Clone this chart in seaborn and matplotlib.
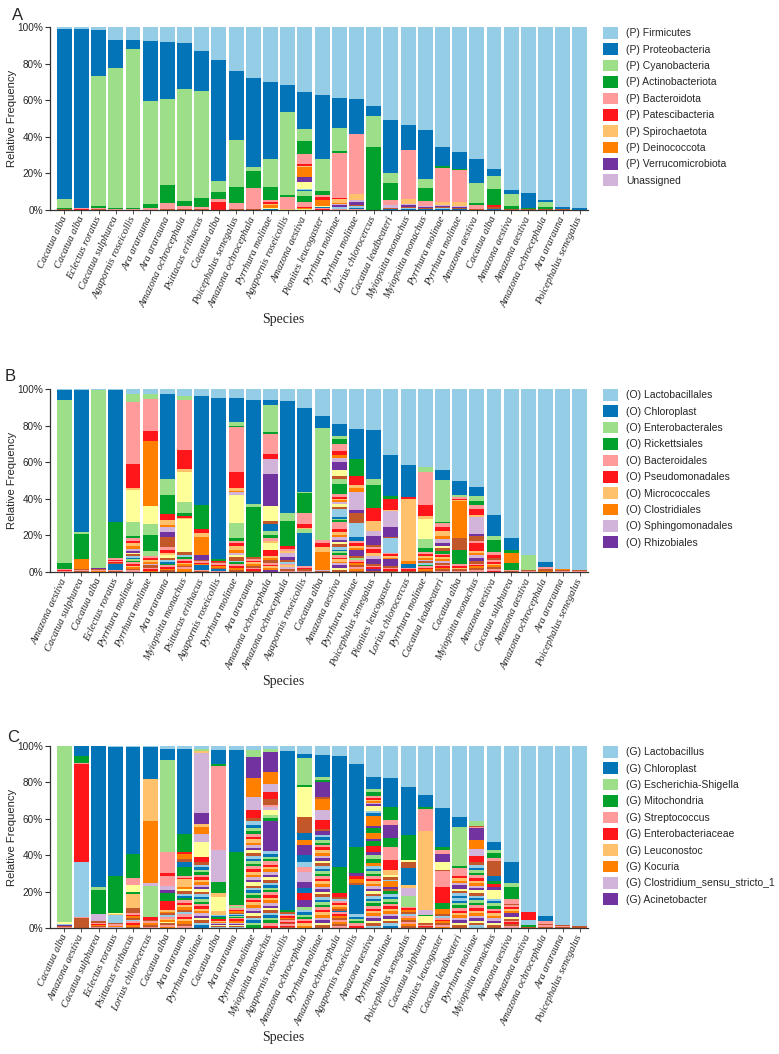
"""Stacked relative-abundance bars (phylum / order / genus) per parrot sample."""

import numpy as np
import seaborn as sns
import matplotlib.pyplot as plt
from matplotlib.patches import Patch

PALETTE = ["#94CDE5", "#0374B8", "#9DDF89", "#02A12B", "#FF9C9B", "#FF161B",
           "#FFC16C", "#FF8000", "#D2B4DA", "#7033A0", "#FFFF99", "#C2582A"]
TAIL_START = 72  # taxon index where the long tail of rare taxa starts

# ---------------- panel A : phylum ----------------
species_a = ["Cacatua alba", "Cacatua alba", "Eclectus roratus", "Cacatua sulphurea",
             "Agapornis roseicollis", "Ara ararauna", "Ara ararauna", "Amazona ochrocephala",
             "Psittacus erithacus", "Cacatua alba", "Poicephalus senegalus", "Amazona ochrocephala",
             "Pyrrhura molinae", "Agapornis roseicollis", "Amazona aestiva", "Pionites leucogaster",
             "Pyrrhura molinae", "Pyrrhura molinae", "Lorius chlorocercus", "Cacatua leadbeateri",
             "Myiopsitta monachus", "Myiopsitta monachus", "Pyrrhura molinae", "Pyrrhura molinae",
             "Amazona aestiva", "Cacatua alba", "Amazona aestiva", "Amazona aestiva",
             "Amazona ochrocephala", "Ara ararauna", "Poicephalus senegalus"]
taxa_a = ["(P) Firmicutes", "(P) Proteobacteria", "(P) Cyanobacteria", "(P) Actinobacteriota",
          "(P) Bacteroidota", "(P) Patescibacteria", "(P) Spirochaetota", "(P) Deinococcota",
          "Unassigned", "(P) Verrucomicrobiota"]
legend_a = ["(P) Firmicutes", "(P) Proteobacteria", "(P) Cyanobacteria", "(P) Actinobacteriota",
            "(P) Bacteroidota", "(P) Patescibacteria", "(P) Spirochaetota", "(P) Deinococcota",
            "(P) Verrucomicrobiota", "Unassigned"]
top_a = [
    [1, 93, 5, 0.5, 0, 0, 0, 0, 0, 0],
    [1.3, 98, 0, 0, 0.3, 0, 0, 0, 0, 0],
    [1.5, 25.5, 71, 1, 0.6, 0, 0, 0, 0, 0],
    [7, 15.4, 76.6, 0.6, 0.2, 0, 0, 0, 0, 0],
    [7, 5, 87, 0.6, 0.2, 0, 0, 0, 0, 0],
    [7.8, 32.6, 56.3, 2.3, 0.8, 0, 0, 0, 0, 0],
    [8.2, 31.1, 47.1, 9.6, 3.5, 0, 0, 0, 0, 0],
    [8.7, 25.3, 61.1, 2.7, 1.7, 0, 0, 0, 0, 0],
    [13.3, 21.6, 58.7, 4.8, 0.8, 0.5, 0, 0, 0, 0],
    [18.2, 66, 6.2, 3.6, 1.8, 4, 0, 0, 0, 0],
    [24.2, 37.3, 25.8, 8.7, 3.6, 0, 0, 0, 0, 0],
    [27.6, 48.8, 2.1, 9.7, 11.5, 0, 0, 0, 0, 0],
    [30, 41.5, 15.5, 6.6, 1, 1.5, 0.6, 1.5, 0, 0],
    [31.8, 14.9, 45.1, 0.9, 6.8, 0, 0.3, 0, 0, 0],
    [35.5, 20, 6.5, 7.5, 5.5, 0.8, 0.7, 5.5, 0, 2.7],
    [37.3, 34.7, 17.5, 2.5, 1, 1.3, 0.5, 2.8, 0, 0],
    [38.7, 16.3, 12.6, 1.1, 24.9, 0.5, 2, 0.5, 0.5, 1],
    [39.6, 18.6, 0, 0, 33.3, 0, 3, 0, 1, 1.5],
    [43.3, 5.4, 16.8, 34.3, 0, 0, 0, 0, 0, 0],
    [51, 28.6, 5.4, 9.5, 2.8, 0, 0, 0, 1.5, 0],
    [53.3, 14, 0, 0, 26.9, 0, 2.5, 0, 0.5, 1.3],
    [56.4, 26.9, 4.5, 7.3, 2.7, 0, 0, 0, 0.5, 0.5],
    [65.5, 10.4, 0, 1, 18.5, 0, 1.8, 0, 0.4, 0.8],
    [68.4, 9.4, 0, 0.3, 17.8, 0, 1.8, 0, 0.4, 0.7],
    [72.2, 12.9, 10.9, 1.3, 2.4, 0, 0, 0, 0, 0],
    [77.6, 3.9, 7.2, 8.6, 0, 1.3, 0, 0, 0, 0],
    [89.1, 2.4, 6.3, 1.5, 0.3, 0, 0, 0, 0, 0],
    [90.5, 8.6, 0, 0.5, 0, 0, 0, 0, 0, 0],
    [94.5, 1.3, 2.4, 1, 0.4, 0, 0, 0, 0, 0],
    [98.5, 1.1, 0, 0, 0, 0, 0, 0, 0, 0],
    [98.9, 0.9, 0, 0, 0, 0, 0, 0, 0, 0],
]
# rarer taxa: {taxon index: relative abundance}
minor_a = [
    {11: 0.3, 16: 0.2}, {11: 0.4, 17: 0.3}, {11: 0.4}, {11: 0.2}, {11: 0.2}, {11: 0.2},
    {11: 0.5}, {11: 0.5}, {11: 0.3}, {11: 0.2}, {11: 0.4}, {11: 0.3},
    {10: 0.3, 11: 0.4, 13: 0.3}, {11: 0.2},
    {10: 3.6, 11: 0.3, 12: 0.5, 13: 0.5, 14: 2.5, 15: 3.5, 16: 2.5, 17: 0.5, 18: 0.4, 19: 0.5, 22: 0.4},
    {10: 0.5, 11: 0.5, 13: 0.5, 16: 0.5, 17: 0.4},
    {11: 0.5, 12: 0.6, 13: 0.4, 16: 0.4},
    {11: 0.8, 12: 1, 13: 0.5, 16: 0.7},
    {11: 0.2}, {11: 0.4, 12: 0.4, 13: 0.4}, {11: 0.5, 12: 0.5, 13: 0.5},
    {11: 0.4, 12: 0.4, 13: 0.4}, {11: 0.5, 12: 0.6, 13: 0.5}, {11: 0.4, 12: 0.4, 13: 0.4},
    {11: 0.3}, {11: 0.7, 13: 0.7}, {11: 0.4}, {11: 0.4}, {11: 0.4}, {11: 0.4}, {11: 0.2},
]
tail_a = {}

# ---------------- panel B : order ----------------
species_b = ["Amazona aestiva", "Cacatua sulphurea", "Cacatua alba", "Eclectus roratus",
             "Pyrrhura molinae", "Pyrrhura molinae", "Ara ararauna", "Myiopsitta monachus",
             "Psittacus erithacus", "Agapornis roseicollis", "Pyrrhura molinae", "Ara ararauna",
             "Amazona ochrocephala", "Amazona ochrocephala", "Agapornis roseicollis", "Cacatua alba",
             "Amazona aestiva", "Pyrrhura molinae", "Poicephalus senegalus", "Pionites leucogaster",
             "Lorius chlorocercus", "Pyrrhura molinae", "Cacatua leadbeateri", "Cacatua alba",
             "Myiopsitta monachus", "Amazona aestiva", "Cacatua sulphurea", "Amazona aestiva",
             "Amazona ochrocephala", "Ara ararauna", "Poicephalus senegalus"]
taxa_b = ["(O) Lactobacillales", "(O) Chloroplast", "(O) Enterobacterales", "(O) Rickettsiales",
          "(O) Bacteroidales", "(O) Pseudomonadales", "(O) Micrococcales", "(O) Clostridiales",
          "(O) Sphingomonadales", "(O) Rhizobiales"]
top_b = [
    [0.7, 5.2, 89.2, 3.4, 0.5, 0.3, 0, 0, 0, 0],
    [0.4, 77.7, 1.2, 13.4, 0, 0, 0, 5.8, 0, 0],
    [0.4, 0, 97.4, 0, 0, 0, 0, 0, 0, 0.8],
    [0.7, 71.9, 0, 20.1, 0.8, 0.6, 0, 0, 0, 0],
    [2.6, 0, 4.2, 0, 33.2, 13, 0.7, 0, 0, 0],
    [2.6, 0, 2.7, 0, 17.6, 5.8, 0, 35.3, 0, 0],
    [2.7, 46.5, 8.8, 10.4, 0, 3.3, 2.2, 1.4, 2.8, 2.7],
    [3.7, 0, 2.5, 0, 26.7, 10.4, 1.5, 0, 0, 0],
    [4, 59.4, 0, 13.4, 0, 2.2, 1.8, 10.1, 0, 2.7],
    [5, 88.2, 0, 1.3, 0, 0.5, 0, 0, 0, 0],
    [5, 13.1, 2, 0.7, 24.4, 8.5, 1.5, 0.9, 1.3, 0],
    [5.9, 57, 1.5, 27.4, 0, 0, 0, 0, 0, 0],
    [6.2, 2.4, 14.6, 1.3, 10.6, 2.7, 0, 0, 8.3, 17.3],
    [6.8, 61.6, 4.2, 13.7, 0, 1.8, 0, 0, 0, 0],
    [10.4, 45.7, 0.6, 10.4, 6.4, 1.8, 1, 0, 0, 0],
    [15, 6.4, 60.9, 0, 2, 2, 2.7, 9.7, 0.5, 0.3],
    [19, 7, 1.3, 2.7, 4.2, 1.8, 0, 1.8, 2.4, 4],
    [22, 16.4, 0, 9.1, 0, 5, 1.8, 1.8, 10, 1.8],
    [22.3, 27.1, 3.1, 12.8, 0, 7.3, 5.5, 0, 2.7, 5.1],
    [36, 22, 0, 1.8, 0, 5.5, 0.5, 0, 9.1, 5.5],
    [41.5, 17.4, 0, 0, 0, 0.9, 33.8, 1.8, 0, 0],
    [42.8, 0, 2.4, 0, 18.2, 6.4, 1.5, 0, 0, 0],
    [44.2, 5.2, 22.6, 1, 1.8, 2.4, 2.7, 1.5, 2, 2],
    [50.1, 7.3, 1.1, 0, 1.3, 0.5, 0.5, 20.1, 0, 0],
    [53.4, 5.1, 2.6, 2.3, 1.9, 3.6, 0.9, 0, 9.1, 1.5],
    [68.9, 11.5, 2.2, 6.4, 1.8, 1.8, 0, 0, 0, 0],
    [81.4, 6.8, 0, 1.4, 0, 0, 0, 5.5, 0, 0],
    [90.9, 0, 7.9, 0, 0, 0, 0, 0, 0, 0],
    [94.5, 2.8, 0, 0, 1.2, 0, 0, 0, 0, 0],
    [98.5, 0, 0, 0, 0, 0, 0, 0.5, 0, 0],
    [99, 0, 0, 0, 0, 0, 0, 0, 0, 0],
]
minor_b = [
    {11: 0.3, 16: 0.2, 17: 0.2},
    {11: 0.5, 16: 0.4, 21: 0.3, 23: 0.3},
    {11: 0.5, 16: 0.5, 19: 0.4},
    {16: 0.6, 17: 0.5, 23: 0.8, 25: 3.3, 28: 0.5, 35: 0.4},
    {10: 17, 14: 7.4, 15: 1.4, 16: 1.5, 17: 1, 18: 1.5, 19: 1.5, 20: 1.2, 21: 1, 22: 0.5,
     23: 1.5, 24: 0.8, 25: 0.5, 26: 1, 27: 0.8, 28: 1, 29: 0.8, 30: 0.8, 31: 0.8, 35: 1, 40: 0.8},
    {10: 10.4, 14: 5.9, 15: 8.8, 26: 2.7, 28: 1, 29: 1, 30: 1.2, 31: 1, 32: 0.8, 35: 1.5,
     40: 0.6, 41: 0.8, 43: 0.8},
    {11: 5.6, 16: 1.5, 17: 1.5, 18: 1, 22: 1.5, 23: 1.5, 24: 1, 25: 0.8, 27: 1, 28: 1,
     29: 0.8, 31: 0.8, 35: 1},
    {10: 16.3, 14: 6.2, 15: 1.3, 17: 1.2, 18: 0.8, 22: 18, 23: 1.5, 24: 1, 27: 1, 28: 1,
     29: 1, 30: 0.8, 31: 0.8, 35: 1, 40: 1, 43: 1.5},
    {11: 0.8, 16: 0.8, 17: 0.7, 19: 0.6, 25: 2.7, 28: 0.5, 35: 0.5},
    {11: 0.8, 16: 0.8, 17: 0.8, 19: 0.8, 23: 0.8, 25: 1, 28: 0.5},
    {10: 15.2, 14: 8.2, 15: 1.5, 16: 1.5, 17: 1.5, 18: 1.8, 19: 1.8, 20: 1, 22: 1.3, 23: 2,
     24: 0.8, 27: 1, 28: 1, 29: 1, 31: 1, 35: 1.3},
    {11: 1.2, 16: 1, 17: 0.8, 18: 0.8, 19: 1, 23: 1.2, 28: 0.8, 29: 0.7, 35: 0.7},
    {10: 8.3, 11: 1.8, 13: 3.3, 14: 2.2, 15: 1.8, 16: 1.5, 18: 1.5, 22: 3.5, 29: 3.5, 30: 1,
     31: 1, 35: 1.5, 40: 1, 41: 1, 42: 1, 43: 1, 45: 1},
    {16: 1, 18: 1.2, 20: 2.5, 21: 1.5, 23: 1, 24: 1, 28: 1, 30: 1, 32: 1.2, 35: 0.8, 40: 0.6},
    {14: 1.8, 25: 18.3, 28: 0.8, 29: 0.8, 35: 0.8, 40: 0.6},
    {11: 0.5},
    {10: 3.3, 11: 1.8, 14: 2.7, 15: 5.5, 16: 1.5, 17: 1, 18: 1, 19: 1, 20: 1, 22: 1.5, 23: 1,
     24: 4.5, 25: 1, 26: 1, 27: 0.8, 28: 4, 29: 1.5, 30: 1.5, 31: 1.2, 32: 1.5, 33: 1, 34: 1.5,
     35: 1.5, 36: 1.5, 37: 0.5, 38: 1.5, 39: 0.8, 40: 1.5, 41: 0.8, 42: 1.5, 43: 0.8, 44: 1.2,
     45: 1.2, 46: 1.2, 47: 1.2},
    {11: 5.5, 12: 7.3, 13: 2.2, 16: 1.5, 17: 1.5, 18: 1, 19: 1, 21: 3.5, 23: 1, 26: 1, 28: 1,
     29: 1, 31: 1, 35: 1.2, 40: 1, 43: 1, 47: 0.5},
    {11: 0.8, 16: 1, 17: 2.5, 18: 1.5, 20: 2, 21: 2.5, 23: 1, 28: 0.8, 29: 1, 33: 0.8, 35: 0.8},
    {11: 0.5, 12: 7.7, 16: 1, 17: 1, 18: 0.8, 19: 0.8, 21: 3.5, 23: 1, 28: 0.8, 29: 0.8, 35: 0.8},
    {13: 1.8, 16: 0.8, 17: 0.8, 23: 0.8},
    {10: 11, 14: 4.9, 15: 1.8, 16: 1.2, 17: 1.2, 18: 1, 19: 1, 20: 1, 23: 1, 24: 0.8, 27: 0.8,
     28: 0.8, 29: 0.8, 31: 0.8, 35: 0.8},
    {10: 1, 11: 1.5, 15: 1.5, 16: 1, 17: 1, 18: 1, 19: 1, 20: 1, 23: 1, 28: 0.8, 29: 0.8,
     31: 0.8, 35: 0.8, 40: 0.8},
    {11: 6.4, 15: 7.9, 16: 1, 17: 1, 18: 0.8, 23: 0.8, 28: 0.6},
    {11: 2.6, 16: 1, 17: 4.5, 18: 1.2, 19: 1, 20: 1.5, 21: 1.5, 23: 1.5, 28: 0.8, 29: 0.8,
     31: 1, 35: 1, 40: 1},
    {11: 1, 16: 1, 17: 1, 18: 1, 19: 1, 23: 1, 28: 0.8, 29: 0.8},
    {15: 3.7, 16: 0.6, 23: 0.6},
    {11: 0.6, 16: 0.6},
    {11: 0.8, 19: 0.7},
    {11: 0.7, 16: 0.3},
    {11: 0.7, 16: 0.3},
]
tail_b = {}

# ---------------- panel C : genus ----------------
species_c = ["Cacatua alba", "Amazona aestiva", "Cacatua sulphurea", "Eclectus roratus",
             "Psittacus erithacus", "Lorius chlorocercus", "Cacatua alba", "Ara ararauna",
             "Pyrrhura molinae", "Cacatua alba", "Ara ararauna", "Pyrrhura molinae",
             "Myiopsitta monachus", "Agapornis roseicollis", "Amazona ochrocephala", "Pyrrhura molinae",
             "Amazona ochrocephala", "Agapornis roseicollis", "Amazona aestiva", "Pyrrhura molinae",
             "Poicephalus senegalus", "Cacatua sulphurea", "Pionites leucogaster", "Cacatua leadbeateri",
             "Pyrrhura molinae", "Myiopsitta monachus", "Amazona aestiva", "Amazona aestiva",
             "Amazona ochrocephala", "Ara ararauna", "Poicephalus senegalus"]
taxa_c = ["(G) Lactobacillus", "(G) Chloroplast", "(G) Escherichia-Shigella", "(G) Mitochondria",
          "(G) Streptococcus", "(G) Enterobacteriaceae", "(G) Leuconostoc", "(G) Kocuria",
          "(G) Clostridium_sensu_stricto_1", "(G) Acinetobacter"]
top_c = [
    [0, 0, 96.9, 0, 0, 0, 0, 0, 0, 0],
    [0, 5.5, 0, 3.8, 0.5, 53.6, 0, 0, 0, 0],
    [0, 77.2, 1.8, 13.1, 0, 0, 0, 0, 4.2, 0],
    [0.5, 70.3, 0, 20.6, 0, 0, 0, 0, 0, 0],
    [0.5, 58.8, 0, 13.3, 3.6, 0, 0, 0, 0, 0],
    [0.5, 17.3, 0, 0.4, 0, 0, 22.9, 33.8, 1.6, 0],
    [1.5, 6, 50.5, 0.5, 11.5, 1.5, 0, 0, 0, 0],
    [1.5, 47.4, 0, 9.7, 0, 1.1, 0, 2.9, 0, 0],
    [1.5, 0, 1.3, 0, 0, 0, 1, 0, 33.4, 6],
    [2.4, 7.3, 0, 1.5, 46, 0, 0, 0, 17.3, 0],
    [2.4, 56, 0, 29, 0.5, 0, 0, 0, 0, 0],
    [2.4, 0, 3.6, 0, 0, 0, 0, 0, 0, 0],
    [1.5, 0, 1.8, 0, 0, 0, 0, 0, 0, 0],
    [2.7, 87, 0, 1.3, 0, 0, 0, 0, 0, 0],
    [4.2, 2.2, 15.1, 1, 0, 0, 0, 0, 0, 0],
    [5, 11.9, 1.8, 1, 0, 0, 0, 0, 0, 8.2],
    [5.7, 60.6, 0, 14.6, 0, 1.8, 0, 0, 0, 0],
    [9.7, 45.6, 0, 14.6, 0, 0, 0, 0, 0, 1.8],
    [17, 6.5, 1.8, 1.8, 1.2, 1, 0.8, 0.8, 0.8, 0.8],
    [17.5, 16, 0, 7.3, 2.7, 0, 0, 0, 0, 7.3],
    [22.4, 26.5, 0, 13.7, 0, 0, 0, 0, 0, 0],
    [26.5, 6.9, 0, 0.9, 11.9, 0, 43.1, 0, 2.7, 0],
    [33.8, 21.5, 0, 1.5, 2.2, 0, 0, 0, 0, 4.6],
    [39.2, 5.5, 21.5, 0.8, 4.6, 1.2, 1.5, 1, 0.8, 2.5],
    [41.6, 0, 2.4, 0, 0, 0, 0, 0, 0, 0],
    [52.6, 4.5, 1.8, 2.7, 1.8, 0, 0, 0, 0, 0],
    [64.4, 11.3, 2.4, 6.4, 2.7, 0, 0, 0, 0, 0],
    [91.4, 0, 0, 0, 0, 4, 0, 0, 0, 0],
    [93.2, 2.7, 0, 0, 1.6, 0, 0, 0, 0, 0],
    [98.2, 0, 0, 0, 0, 0, 0, 0, 0, 0],
    [98.7, 0, 0, 0, 0, 0, 0, 0, 0, 0],
]
minor_c = [
    {10: 0.7, 12: 0.5, 13: 0.4, 21: 0.5, 23: 0.5, 28: 0.5},
    {12: 30.5, 16: 0.5, 23: 5.5},
    {11: 0.6, 16: 0.6, 17: 0.5, 19: 0.6, 23: 0.7, 28: 0.6},
    {10: 0.7, 18: 0.5, 24: 4, 35: 0.8, 40: 0.8, 41: 0.4, 43: 0.5, 44: 0.4},
    {10: 3.6, 15: 1.3, 18: 7.8, 23: 2.7, 28: 1, 29: 0.8, 31: 1, 35: 1, 36: 0.8, 40: 1,
     41: 0.8, 43: 1, 47: 0.8},
    {14: 17, 17: 1.3, 23: 1, 28: 1, 31: 0.8, 35: 1, 40: 0.8},
    {16: 5.5, 20: 2, 21: 2, 27: 4, 29: 5, 30: 1, 31: 1, 35: 1, 36: 0.8, 40: 1, 42: 0.8,
     43: 1, 46: 0.8, 47: 1, 52: 0.8, 55: 0.8},
    {11: 1.5, 13: 2.7, 15: 5, 16: 1, 17: 1, 18: 4, 19: 1.5, 22: 1, 23: 1.5, 24: 1.2, 25: 1.2,
     27: 1.2, 28: 1.5, 29: 1.2, 30: 1.2, 31: 1.2, 35: 1.5, 36: 1.2, 40: 1.5, 41: 1.2, 42: 1.2,
     43: 1.2, 47: 1.2, 52: 1.2},
    {18: 1.5, 19: 4, 20: 4.6, 22: 8.2, 29: 2.7, 35: 1.8},
    {15: 6.4, 18: 1.8, 22: 8.2, 30: 1.8},
    {14: 1.5, 16: 0.8, 17: 0.8, 19: 0.8, 23: 0.8},
    {21: 11.9, 31: 10, 32: 7.3, 41: 4.6, 47: 1.8},
    {21: 11, 31: 6.4, 32: 4.6, 41: 3.6, 47: 3.6, 52: 1.2, 56: 1.3, 58: 2.7, 62: 1.8, 63: 1.8,
     69: 16.4},
    {11: 0.6, 12: 0.8, 16: 0.8, 17: 0.6, 19: 0.7, 23: 0.8, 28: 0.8, 29: 0.7, 35: 0.7, 40: 0.8,
     41: 0.6, 47: 0.6},
    {10: 16.4, 11: 9.1, 13: 3.6, 19: 3, 21: 5.5, 25: 3.6, 36: 2.7, 40: 2.7, 44: 5.5, 45: 3.6,
     49: 2.7, 53: 3.6, 57: 3.6, 62: 1.8},
    {11: 0.9, 19: 6.4, 20: 5.5, 29: 4.6, 35: 1.5, 45: 1.8},
    {11: 1.2, 12: 1.2, 16: 1, 17: 1, 18: 1, 19: 1.2, 23: 1.2, 25: 0.8, 28: 1, 29: 1, 31: 1.2,
     35: 1.2, 40: 1, 43: 1, 47: 1.2, 52: 1},
    {17: 1.5, 19: 1.8, 23: 1.5, 25: 15.8},
    {10: 2.7, 12: 1.5, 13: 1.5, 19: 5.5, 21: 1.2, 27: 2.7, 31: 3, 33: 1.5, 39: 2.5, 41: 3,
     45: 2, 50: 2, 51: 2.5, 55: 1.5},
    {15: 4.6, 16: 7.3, 17: 5.5, 18: 2.7, 22: 1.2, 23: 1.3, 24: 1, 31: 3, 33: 1, 35: 1, 39: 2},
    {10: 0.9, 11: 3.6, 13: 9.1, 18: 1.8, 20: 4.6, 26: 5.5, 28: 1, 29: 1, 31: 1, 35: 1.2,
     36: 1, 40: 1.2, 43: 1, 47: 1.2, 52: 1.2, 55: 1, 59: 1},
    {15: 1, 22: 3.6, 23: 0.8, 28: 0.6, 29: 0.6, 35: 0.7},
    {10: 4, 11: 0.5, 16: 9, 17: 9, 27: 3.1, 31: 2.7, 35: 1, 36: 1, 40: 1, 41: 0.8, 43: 1,
     47: 1, 52: 1, 55: 0.8},
    {10: 1, 11: 1.2, 12: 1.5, 13: 1.2},
    {11: 0.6, 16: 0.6, 21: 6.4, 31: 5.1, 32: 4, 41: 3.3, 47: 1.8},
    {11: 8.2, 13: 2.7, 15: 1.5, 17: 1.5, 21: 2, 22: 4.6},
    {11: 1, 16: 1, 17: 1.2, 18: 1, 19: 1.2, 21: 2, 22: 1, 23: 1, 28: 1, 29: 1, 35: 1.1, 40: 1},
    {12: 2.7, 15: 1.3, 23: 0.6},
    {11: 0.8, 16: 0.8, 23: 0.8},
    {11: 0.6, 16: 0.6, 23: 0.6},
    {11: 0.5, 16: 0.4, 23: 0.4},
]
# long tail of rare genera for the most diverse samples (bar index -> abundances)
tail_c = {
    8: [1.2, 1.5, 1.0, 1.6, 1.3, 1.4, 1.2, 1.5, 1.3, 1.1, 1.6, 1.4, 1.2, 1.3, 1.5, 1.2, 1.4,
        1.3, 1.1, 1.5, 1.3, 1.4, 1.2, 1.3, 1.5, 1.4],
    9: [0.5, 0.6, 0.4, 0.6, 0.5, 0.7, 0.6, 0.5, 0.6, 0.5, 0.6, 0.5, 0.7],
    10: [0.6, 0.5, 0.7, 0.5, 0.6, 0.6, 0.5, 0.6, 0.7, 0.5, 0.6, 0.5, 0.7],
    11: [2.2, 1.3, 1.8, 1.5, 1.6, 1.2, 2.0, 1.4, 1.5, 1.3, 1.8, 1.2, 1.6, 1.4, 1.5, 1.2, 1.9,
         1.4, 1.6, 1.3, 1.5, 1.4, 1.7, 1.2, 1.4, 1.3, 1.5, 1.2, 1.4, 1.3, 1.5, 1.4, 1.6, 1.3,
         1.5, 1.2, 1.4, 1.3, 1.5, 1.4],
    12: [1.6, 1.3, 1.5, 1.2, 1.7, 1.4, 1.3, 1.5, 1.4, 1.2, 1.6, 1.5, 1.3, 1.4, 1.5, 1.2, 1.4,
         1.6, 1.3, 1.4, 1.5, 1.3, 1.4, 1.2, 1.5, 1.4, 1.3, 1.5, 1.4, 1.3],
    14: [1.4, 1.2, 1.3, 1.1, 1.3, 1.2, 1.4, 1.1],
    15: [1.5, 1.3, 1.6, 1.4, 1.2, 1.5, 1.7, 1.3, 1.4, 1.5, 1.2, 1.6, 1.4, 1.3, 1.5, 1.4, 1.6,
         1.2, 1.5, 1.4, 1.3, 1.6, 1.4, 1.5, 1.3, 1.4, 1.6, 1.2, 1.5, 1.4, 1.3, 1.5, 1.4, 1.6,
         1.3, 1.4],
    17: [1.4, 1.2, 1.3, 1.3, 1.2, 1.3],
    18: [1.4, 1.2, 1.5, 1.3, 1.4, 1.2, 1.6, 1.3, 1.4, 1.2, 1.5, 1.3, 1.4, 1.3, 1.2, 1.5, 1.4,
         1.3, 1.2, 1.4, 1.5, 1.3, 1.4, 1.2, 1.3],
    19: [1.4, 1.2, 1.5, 1.3, 1.2, 1.4, 1.3, 1.5, 1.2, 1.4, 1.3, 1.2, 1.4, 1.3],
    23: [1.5, 1.2, 1.4, 1.3, 1.5, 1.4, 1.2, 1.5, 1.3, 1.4, 1.2, 1.6],
    24: [1.5, 1.3, 1.4, 1.2, 1.6, 1.4, 1.3, 1.5, 1.2, 1.4, 1.3, 1.5, 1.4, 1.2, 1.5, 1.3, 1.4,
         1.6, 1.3, 1.4, 1.2, 1.5, 1.3, 1.4, 1.4],
    25: [1.4, 1.2, 1.5, 1.3, 1.4, 1.2, 1.3, 1.5, 1.2, 1.4, 1.3, 1.4],
}


def build_matrix(top, minor, tail):
    """Samples x taxa matrix, rows rescaled to 100 %."""
    n_cols = TAIL_START + max([len(v) for v in tail.values()] + [0])
    mat = np.zeros((len(top), n_cols))
    for i, row in enumerate(top):
        mat[i, :len(row)] = row
    for i, extra in enumerate(minor):
        for k, v in extra.items():
            mat[i, k] = v
    for i, vals in tail.items():
        mat[i, TAIL_START:TAIL_START + len(vals)] = vals
    return mat / mat.sum(axis=1, keepdims=True) * 100


def draw_panel(ax, mat, species):
    x = np.arange(len(species))
    # top edge of each taxon when taxon 0 sits on top of the stack
    tops = mat[:, ::-1].cumsum(axis=1)[:, ::-1]
    for k in range(mat.shape[1]):
        if not mat[:, k].any():
            continue
        sns.barplot(x=x, y=tops[:, k], color=PALETTE[k % 12], saturation=1, width=0.87,
                    errorbar=None, linewidth=0, ax=ax)
    ax.set_xlim(-0.83, 30.47)
    ax.set_ylim(0, 100)
    ax.set_yticks([0, 20, 40, 60, 80, 100])
    ax.set_yticklabels([f"{v}%" for v in range(0, 101, 20)], fontsize=7.2)
    ax.set_xticks(x)
    ax.set_xticklabels(species, rotation=65, ha="right", va="center", rotation_mode="anchor",
                       fontsize=7.6, fontstyle="italic", family="Liberation Serif")
    ax.tick_params(axis="y", length=3.5, width=0.8, pad=1.5, color="#333333")
    ax.tick_params(axis="x", length=3, width=0.6, pad=2, color="#333333")
    ax.set_xlabel("")
    ax.set_ylabel("Relative Frequency", fontsize=8.1)
    ax.yaxis.set_label_coords(-0.062, 0.5)
    sns.despine(ax=ax)
    for side in ("left", "bottom"):
        ax.spines[side].set_color("#333333")
        ax.spines[side].set_linewidth(0.9)


sns.set_style("ticks")
plt.rcParams["font.family"] = ["Liberation Sans", "DejaVu Sans"]

W, H = 779, 1054
fig = plt.figure(figsize=(W / 100, H / 100), dpi=100)

panels = [
    ("A", species_a, build_matrix(top_a, minor_a, tail_a), taxa_a, legend_a, 27, 210, (12, 20), 320),
    ("B", species_b, build_matrix(top_b, minor_b, tail_b), taxa_b, taxa_b, 389, 572, (5, 381), 682),
    ("C", species_c, build_matrix(top_c, minor_c, tail_c), taxa_c, taxa_c, 746, 928, (7, 742), 1038),
]

for letter, species, mat, taxa, legend_order, top_px, bot_px, letter_xy, species_y in panels:
    ax = fig.add_axes([50 / W, 1 - bot_px / H, 538 / W, (bot_px - top_px) / H])
    draw_panel(ax, mat, species)

    colors = {name: PALETTE[i] for i, name in enumerate(taxa)}
    handles = [Patch(facecolor=colors[name], edgecolor="none") for name in legend_order]
    fig.legend(handles, legend_order, loc="upper left", bbox_to_anchor=(603 / W, 1 - top_px / H),
               frameon=False, fontsize=7.5, handlelength=1.45, handleheight=1.35,
               labelspacing=0.45, handletextpad=0.75, borderpad=0, borderaxespad=0)

    fig.text(letter_xy[0] / W, 1 - letter_xy[1] / H, letter, fontsize=12, va="baseline")
    fig.text(283 / W, 1 - species_y / H, "Species", ha="center", va="center",
             fontsize=10, family="Liberation Serif")

fig.savefig("out.png", dpi=100)
